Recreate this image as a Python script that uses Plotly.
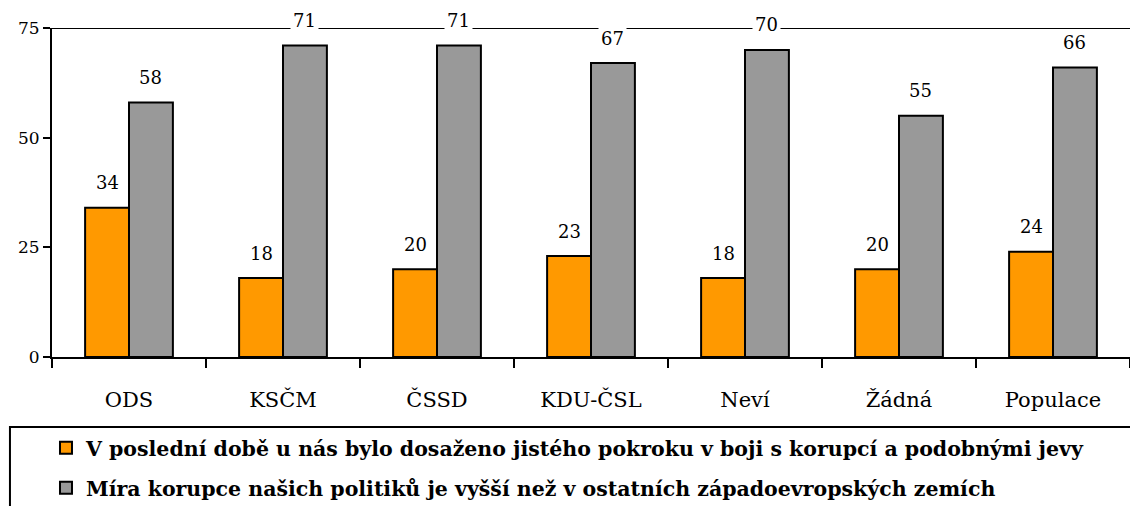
import plotly.graph_objects as go

categories = ["ODS", "KSČM", "ČSSD", "KDU-ČSL", "Neví", "Žádná", "Populace"]
progress = [34, 18, 20, 23, 18, 20, 24]
corruption = [58, 71, 71, 67, 70, 55, 66]
series_names = [
    "V poslední době u nás bylo dosaženo jistého pokroku v boji s korupcí a podobnými jevy",
    "Míra korupce našich politiků je vyšší než v ostatních západoevropských zemích",
]
y_ticks = [0, 25, 50, 75]

FONT = "DejaVu Serif"
ORANGE = "#FF9900"
GRAY = "#999999"
BARGAP = 0.43

fig = go.Figure()
fig.add_trace(go.Bar(x=categories, y=progress, name=series_names[0],
                     marker=dict(color=ORANGE, line=dict(color="black", width=2)),
                     legend="legend"))
fig.add_trace(go.Bar(x=categories, y=corruption, name=series_names[1],
                     marker=dict(color=GRAY, line=dict(color="black", width=2)),
                     legend="legend2"))

half = (1 - BARGAP) / 4
annotations = []
for i, (c, a, b) in enumerate(zip(categories, progress, corruption)):
    for off, v in ((-half, a), (half, b)):
        annotations.append(dict(x=i + off, y=v, xref="x", yref="y", text=str(v),
                                showarrow=False, yshift=25, bgcolor="white",
                                font=dict(family=FONT, size=18, color="black"),
                                borderpad=2))

legend_font = dict(family=FONT, size=20.5, color="black", weight="bold")
fig.update_layout(
    width=1130, height=506,
    margin=dict(l=52, r=0, t=28, b=149, autoexpand=False),
    plot_bgcolor="white", paper_bgcolor="white",
    barmode="group", bargap=BARGAP, bargroupgap=0,
    font=dict(family=FONT, color="black"),
    showlegend=True,
    legend=dict(xref="container", yref="container", x=0.0407, y=0.1146,
                xanchor="left", yanchor="middle", bgcolor="rgba(0,0,0,0)",
                font=legend_font, itemclick=False),
    legend2=dict(xref="container", yref="container", x=0.0407, y=0.0356,
                 xanchor="left", yanchor="middle", bgcolor="rgba(0,0,0,0)",
                 font=legend_font, itemclick=False),
    shapes=[
        dict(type="line", xref="paper", yref="y", x0=0, x1=1, y0=75, y1=75,
             line=dict(color="black", width=2), layer="below"),
        dict(type="rect", xref="paper", yref="paper", x0=-0.039, x1=1.01, y0=-0.47, y1=-0.2128,
             line=dict(color="black", width=2)),
    ],
    annotations=annotations,
)
fig.update_xaxes(type="category", showline=True, linecolor="black", linewidth=2,
                 ticks="outside", tickson="boundaries", ticklen=9, tickwidth=2, tickcolor="black",
                 ticklabelstandoff=23,
                 tickfont=dict(family=FONT, size=21, color="black"), showgrid=False)
fig.update_yaxes(range=[0, 75], tickvals=y_ticks, showline=True, linecolor="black", linewidth=2,
                 ticks="outside", ticklen=7, tickwidth=2, tickcolor="black",
                 tickfont=dict(family=FONT, size=17, color="black"), showgrid=False, zeroline=False)

fig.write_html("out.html", config={"displayModeBar": False},
               post_script="document.body.style.margin='0';document.body.style.padding='0';")
